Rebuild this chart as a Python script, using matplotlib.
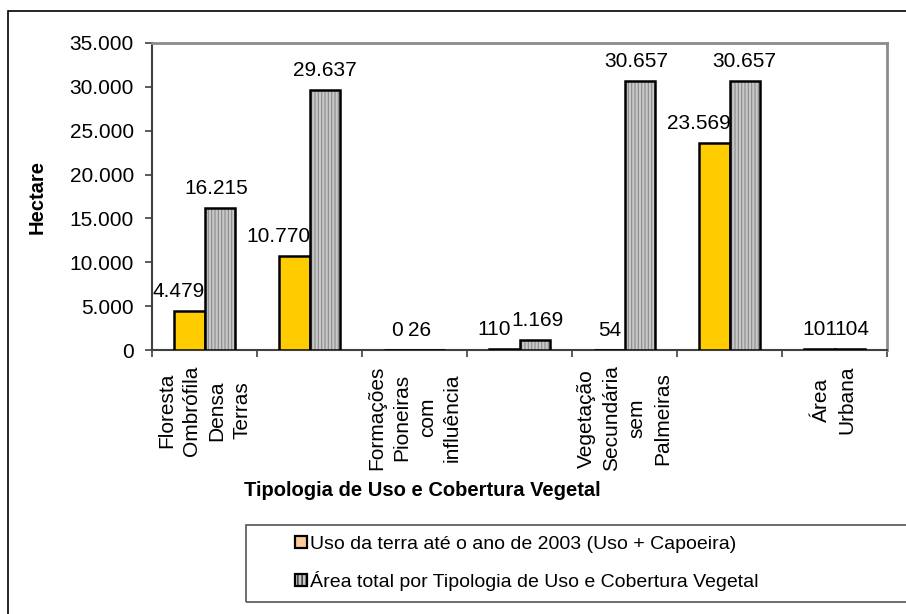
import matplotlib
matplotlib.use("Agg")
import matplotlib.pyplot as plt
from matplotlib.patches import Patch, Rectangle
import numpy as np

plt.rcParams['font.family'] = ['Liberation Sans', 'DejaVu Sans']
plt.rcParams['hatch.linewidth'] = 0.8

categories = ["Floresta\nOmbrófila\nDensa\nTerras", "",
              "Formações\nPioneiras\ncom\ninfluência", "",
              "Vegetação\nSecundária\nsem\nPalmeiras", "",
              "Área\nUrbana"]
uso_2003 = [4479, 10770, 0, 110, 54, 23569, 101]
area_total = [16215, 29637, 26, 1169, 30657, 30657, 104]
series_names = ["Uso da terra até o ano de 2003 (Uso + Capoeira)",
                "Área total por Tipologia de Uso e Cobertura Vegetal"]
yticks = [0, 5000, 10000, 15000, 20000, 25000, 30000, 35000]

# label nudges (pixels) mimicking the manual placement in the original
uso_label_dx = [-11, -16, -2, -10, 0, -16, 0]
tot_label_dx = [-3, 0, -10, 3, -3, 0, 2]

W, H = 906, 614
fig = plt.figure(figsize=(W / 100, H / 100), dpi=100)
ax = fig.add_axes([152 / W, 1 - 350 / H, (887 - 152) / W, (350 - 43) / H])

fmt = lambda v: f"{v:,.0f}".replace(",", ".")

x = np.arange(len(categories))
bw = 0.286
yel = ax.bar(x - bw / 2, uso_2003, bw, color="#FFCC00", edgecolor="black", linewidth=1.8, zorder=3)
ax.bar(x + bw / 2, area_total, bw, color="#C8C8C8", edgecolor="#8a8a8a", linewidth=0, hatch="|||||", zorder=3)
gry = ax.bar(x + bw / 2, area_total, bw, fill=False, edgecolor="black", linewidth=1.8, zorder=4)

fs = 15
for rect, v, dx in zip(yel, uso_2003, uso_label_dx):
    ax.annotate(fmt(v), (rect.get_x() + rect.get_width() / 2, v), xytext=(dx, 14),
                textcoords="offset pixels", ha="center", va="baseline", fontsize=fs, zorder=5)
for rect, v, dx in zip(gry, area_total, tot_label_dx):
    ax.annotate(fmt(v), (rect.get_x() + rect.get_width() / 2, v), xytext=(dx, 14),
                textcoords="offset pixels", ha="center", va="baseline", fontsize=fs, zorder=5)

ax.set_xlim(-0.5, len(categories) - 0.5)
ax.set_ylim(0, 35000)
ax.set_yticks(yticks)
ax.set_yticklabels([fmt(v) for v in yticks], fontsize=fs)
ax.set_xticks(np.arange(len(categories) + 1) - 0.5)
ax.set_xticklabels([])
ax.set_xticks(x, minor=True)
ax.set_xticklabels(categories, minor=True, rotation=90, fontsize=fs,
                   ha="center", va="top", multialignment="center", linespacing=1.42)
ax.tick_params(axis="x", which="minor", length=0, pad=11)
ax.tick_params(axis="x", which="major", length=5, width=1.2, color="#404040", direction="out")
ax.tick_params(axis="y", length=5, width=1.2, color="#404040", direction="out", pad=8)

for s in ["left", "bottom"]:
    ax.spines[s].set_color("#404040")
    ax.spines[s].set_linewidth(1.5)
for s in ["top", "right"]:
    ax.spines[s].set_color("#8c8c8c")
    ax.spines[s].set_linewidth(2)

fig.text(37 / W, 1 - 197 / H, "Hectare", rotation=90, ha="center", va="center",
         fontsize=14.5, fontweight="bold")
fig.text(422 / W, 1 - 490 / H, "Tipologia de Uso e Cobertura Vegetal", ha="center", va="center",
         fontsize=14.5, fontweight="bold")

# outer chart border (extends beyond the image on right and bottom)
fig.patches.append(Rectangle((8 / W, -0.2), 2, 1.2 - 11 / H, transform=fig.transFigure,
                             fill=False, edgecolor="black", linewidth=1.2))
# legend frame
fig.patches.append(Rectangle((246 / W, 1 - 602 / H), 2, (602 - 525) / H, transform=fig.transFigure,
                             fill=False, edgecolor="#555555", linewidth=1.2))
handles = [Patch(facecolor="#FFCC99", edgecolor="black", linewidth=1.6),
           Patch(facecolor="#C8C8C8", edgecolor="black", linewidth=1.6, hatch="||||")]
fig.legend(handles, series_names, loc="upper left", bbox_to_anchor=(281 / W, 1 - 522 / H),
           frameon=False, fontsize=14, handlelength=0.62, handleheight=0.62,
           handletextpad=0.15, labelspacing=0.93, borderpad=0.2)

fig.savefig("out.png", dpi=100)
